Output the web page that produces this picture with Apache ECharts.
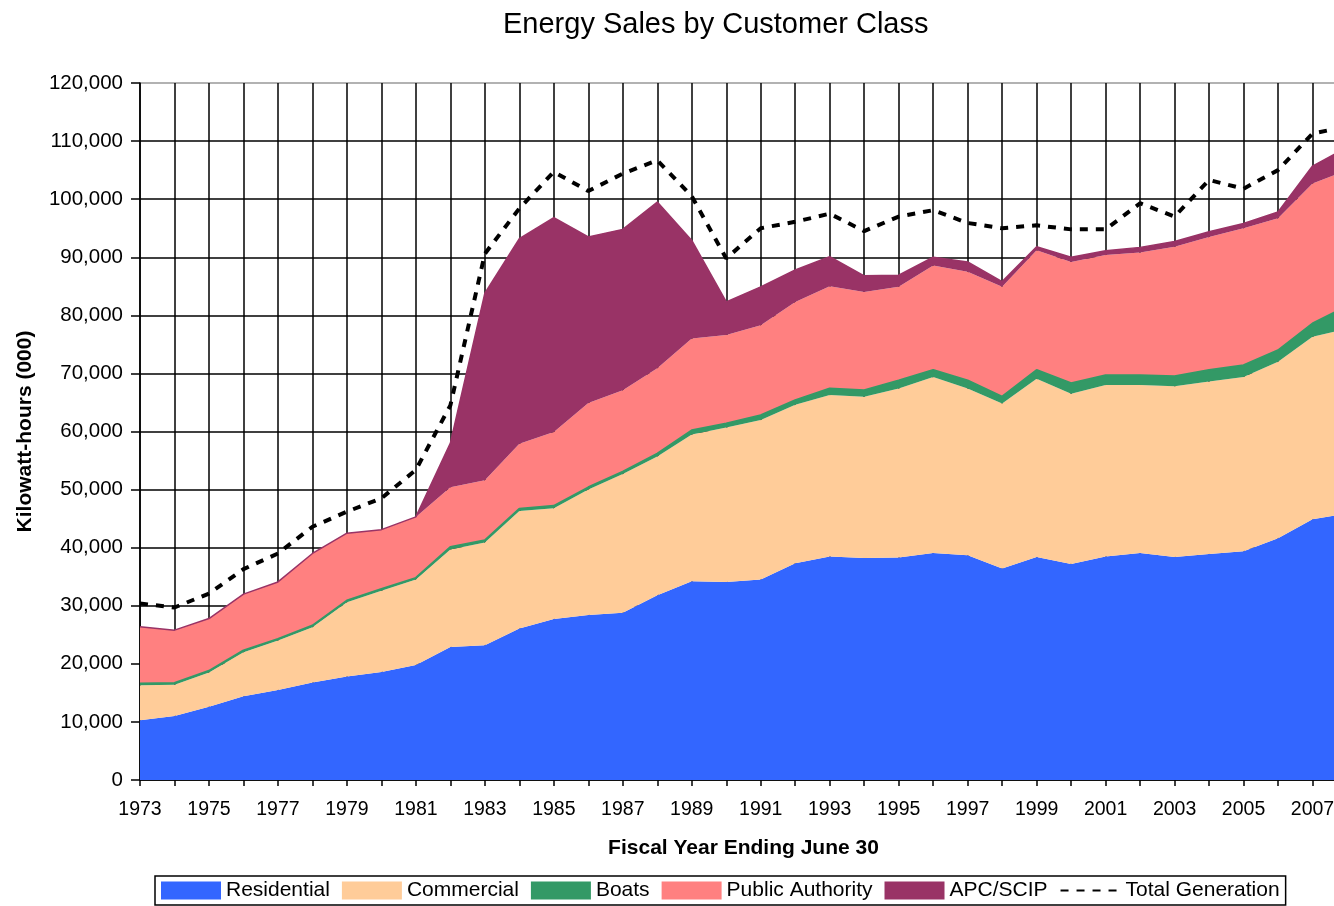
<!DOCTYPE html>
<html>
<head>
<meta charset="utf-8">
<script src="https://cdn.jsdelivr.net/npm/echarts@6/dist/echarts.min.js"></script>
<style>
    html, body { margin: 0; padding: 0; background: #fff; overflow: hidden; }
    /* the chart is a bit wider than the page: the original is cut off just past 2007 */
    #wrap { width: 1334px; height: 906px; overflow: hidden; position: relative; }
    #chart { width: 1347px; height: 906px; position: absolute; left: 0; top: 0; }
</style>
</head>
<body>
<div id="wrap"><div id="chart"></div></div>
<script>
    const years = ['1973', '1974', '1975', '1976', '1977', '1978', '1979', '1980', '1981', '1982',
        '1983', '1984', '1985', '1986', '1987', '1988', '1989', '1990', '1991', '1992',
        '1993', '1994', '1995', '1996', '1997', '1998', '1999', '2000', '2001', '2002',
        '2003', '2004', '2005', '2006', '2007', '2008'];

    const residential = [10300, 11000, 12600, 14400, 15500, 16800, 17800, 18600, 19800, 22900,
        23200, 26100, 27700, 28400, 28800, 31800, 34200, 34100, 34500, 37300,
        38500, 38200, 38300, 39100, 38700, 36400, 38400, 37200, 38500, 39100,
        38400, 38900, 39400, 41600, 44900, 45900];
    const commercial = [6000, 5400, 5900, 7600, 8500, 9500, 12800, 14000, 14700, 16800,
        17700, 20200, 19100, 21600, 23900, 23900, 25300, 26600, 27500, 27300,
        27800, 27800, 29100, 30300, 28700, 28400, 30700, 29300, 29500, 28900,
        29400, 29700, 30000, 30400, 31400, 31800];
    const boats = [300, 300, 300, 300, 300, 300, 300, 300, 300, 400,
        400, 400, 400, 400, 400, 500, 700, 700, 800, 800,
        1100, 1100, 1400, 1200, 1400, 1200, 1500, 1800, 1700, 1700,
        1700, 2000, 2000, 2000, 2300, 3900];
    const publicAuthority = [9800, 9100, 9000, 9700, 9800, 12400, 11600, 10200, 10500, 10300,
        10300, 11200, 12700, 14500, 14000, 14700, 15800, 15200, 15500, 16900,
        17600, 16900, 16100, 18000, 18700, 18900, 20600, 20900, 20700, 21100,
        22300, 22900, 23600, 22700, 24100, 23400];
    const apcScip = [0, 0, 0, 0, 0, 0, 0, 0, 0, 7600,
        32200, 35300, 36900, 28600, 27700, 28600, 16900, 5700, 6600, 5500,
        5100, 2800, 2000, 1400, 1700, 900, 600, 800, 700, 900,
        900, 900, 800, 1100, 3000, 3900];
    const totalGeneration = [30400, 29700, 32100, 36300, 39000, 43600, 46200, 48500, 53400, 64500,
        90600, 98400, 104700, 101400, 104400, 106700, 100500, 89800, 95000, 96100,
        97500, 94500, 97000, 98100, 95900, 95000, 95500, 94800, 94800, 99300,
        97000, 103300, 101800, 105000, 111300, 112500];

    const font = 'Liberation Sans, Arial, sans-serif';

    function area(name, values, color, lineWidth) {
        return {
            name: name,
            type: 'line',
            stack: 'total',
            symbol: 'none',
            color: color,
            lineStyle: { color: color, width: lineWidth },
            areaStyle: { color: color, opacity: 1 },
            data: values
        };
    }

    let chart = echarts.init(document.getElementById('chart'));
    chart.setOption({
        animation: false,
        title: {
            text: 'Energy Sales by Customer Class',
            left: 498,
            top: 5,
            textStyle: { fontFamily: font, fontSize: 29, fontWeight: 'normal', color: '#000' }
        },
        legend: {
            left: 155,
            top: 876,
            padding: [4, 6],
            itemGap: 12,
            itemWidth: 60,
            itemHeight: 18,
            borderColor: '#000',
            borderWidth: 1.5,
            textStyle: { fontFamily: font, fontSize: 21, color: '#000' },
            data: [
                { name: 'Residential', icon: 'rect' },
                { name: 'Commercial', icon: 'rect' },
                { name: 'Boats', icon: 'rect' },
                { name: 'Public Authority', icon: 'rect' },
                { name: 'APC/SCIP', icon: 'rect' },
                { name: 'Total Generation', itemStyle: { opacity: 0 } }
            ]
        },
        grid: { left: 140, right: 0, top: 83, bottom: 126 },
        xAxis: {
            type: 'category',
            boundaryGap: false,
            data: years,
            name: 'Fiscal Year Ending June 30',
            nameLocation: 'middle',
            nameGap: 58,
            nameTextStyle: { fontFamily: font, fontSize: 21, fontWeight: 'bold', color: '#000' },
            axisLine: { lineStyle: { color: '#000', width: 1.5 } },
            axisTick: { interval: 0, length: 6, lineStyle: { color: '#000', width: 1.5 } },
            axisLabel: { interval: 1, margin: 20, fontFamily: font, fontSize: 19.5, color: '#000' },
            splitLine: { show: true, interval: 0, lineStyle: { color: '#000', width: 1.5 } }
        },
        yAxis: {
            type: 'value',
            min: 0,
            max: 120000,
            interval: 10000,
            name: 'Kilowatt-hours (000)',
            nameLocation: 'middle',
            nameGap: 104,
            nameTextStyle: { fontFamily: font, fontSize: 21, fontWeight: 'bold', color: '#000' },
            axisLine: { show: true, lineStyle: { color: '#000', width: 1.5 } },
            axisTick: { show: true, length: 9, lineStyle: { color: '#000', width: 1.5 } },
            axisLabel: {
                margin: 17,
                fontFamily: font,
                fontSize: 20.5,
                color: '#000',
                formatter: function (v) { return v.toLocaleString('en-US'); }
            },
            splitLine: {
                lineStyle: {
                    color: ['#000', '#000', '#000', '#000', '#000', '#000', '#000',
                        '#000', '#000', '#000', '#000', '#000', '#999'],
                    width: 1.5
                }
            }
        },
        series: [
            area('Residential', residential, '#3366FF', 0),
            area('Commercial', commercial, '#FFCC99', 0),
            area('Boats', boats, '#339966', 2),
            area('Public Authority', publicAuthority, '#FF8080', 0),
            area('APC/SCIP', apcScip, '#993366', 1.5),
            {
                name: 'Total Generation',
                type: 'line',
                symbol: 'none',
                color: '#000',
                lineStyle: { color: '#000', width: 4, type: [8, 8] },
                z: 5,
                data: totalGeneration
            }
        ]
    });
</script>
</body>
</html>
